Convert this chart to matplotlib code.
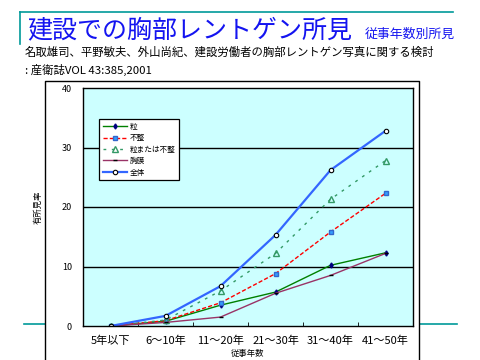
import matplotlib
matplotlib.use("Agg")
import matplotlib.pyplot as plt
from matplotlib.lines import Line2D

plt.rcParams['font.family'] = ['Noto Sans CJK JP', 'DejaVu Sans']

categories = ['5年以下', '6～10年', '11～20年', '21～30年', '31～40年', '41～50年']
tsubu = [0, 0.8, 3.5, 5.7, 10.2, 12.3]
fusei = [0, 0.9, 3.9, 8.8, 15.8, 22.3]
tsubu_or_fusei = [0, 1.0, 5.9, 12.2, 21.3, 27.8]
kyomaku = [0, 0.6, 1.5, 5.5, 8.5, 12.2]
zentai = [0, 1.7, 6.7, 15.3, 26.2, 32.8]
yticks = [0, 10, 20, 30, 40]

W, H = 480, 360
fig = plt.figure(figsize=(4.8, 3.6), dpi=100)
fig.patch.set_facecolor('white')

def fx(px): return px / W
def fy(py): return 1 - py / H

teal = '#009999'
# decorative slide lines
fig.add_artist(Line2D([fx(20), fx(453)], [fy(12), fy(12)], color=teal, lw=1.2))
fig.add_artist(Line2D([fx(20), fx(20)], [fy(12), fy(44)], color=teal, lw=1.2))
fig.add_artist(Line2D([fx(24), fx(45)], [fy(324), fy(324)], color=teal, lw=1.2))
fig.add_artist(Line2D([fx(420), fx(457)], [fy(324), fy(324)], color=teal, lw=1.2))

# chart frame
fig.add_artist(Line2D([fx(45), fx(45), fx(419), fx(419)], [fy(365), fy(81), fy(81), fy(365)],
                      color='black', lw=1.0))

# titles
fig.text(fx(27), fy(30), '建設での胸部レントゲン所見', fontsize=18, color='#1414F0', va='center', ha='left')
fig.text(fx(365), fy(34), '従事年数別所見', fontsize=9.3, color='#1414F0', va='center', ha='left')
fig.text(fx(25), fy(52), '名取雄司、平野敏夫、外山尚紀、建設労働者の胸部レントゲン写真に関する検討',
         fontsize=8.2, color='black', va='center', ha='left')
fig.text(fx(25), fy(70), ': 産衛誌VOL 43:385,2001', fontsize=8.2, color='black', va='center', ha='left')

ax = fig.add_axes([fx(83), fy(326), (413 - 83) / W, (326 - 88) / H])
ax.set_facecolor('#CCFFFF')
x = list(range(len(categories)))

ax.plot(x, tsubu, color='#008000', lw=1.0, marker='d', ms=2.6,
        mfc='#000080', mec='#000080', label='粒')
ax.plot(x, fusei, color='#FF0000', lw=1.0, ls=(0, (3, 1.5)), marker='s', ms=3.5,
        mfc='#33A0FF', mec='#3366CC', label='不整')
ax.plot(x, tsubu_or_fusei, color='#339966', lw=1.0, ls=(0, (2, 4)), marker='^', ms=4,
        mfc='none', mec='#339966', label='粒または不整')
ax.plot(x, kyomaku, color='#993366', lw=1.0, marker='_', ms=3, mec='black', label='胸膜')
ax.plot(x, zentai, color='#3366FF', lw=1.6, marker='o', ms=3.2,
        mfc='white', mec='black', mew=0.8, label='全体')

ax.set_xlim(-0.5, 5.5)
ax.set_ylim(0, 40)
ax.set_yticks(yticks)
ax.set_yticklabels([str(v) for v in yticks], fontsize=6.5)
for v in yticks[1:-1]:
    ax.axhline(v, color='black', lw=1.0, zorder=0.5)
ax.set_xticks(x)
ax.set_xticklabels(categories, fontsize=8)
ax.set_xticks([i + 0.5 for i in range(len(categories) - 1)], minor=True)
ax.tick_params(axis='x', which='major', length=0, pad=7)
ax.tick_params(axis='x', which='minor', length=3, direction='in')
ax.tick_params(axis='y', length=0, pad=8)
for s in ax.spines.values():
    s.set_linewidth(1.0)
    s.set_color('black')

ax.set_xlabel('従事年数', fontsize=6, labelpad=2)
ax.set_ylabel('有所見率', fontsize=6, labelpad=14)

leg = ax.legend(loc='upper left', bbox_to_anchor=((99 - 83) / 330, (326 - 119) / 238),
                fontsize=5.5, frameon=True, fancybox=False, edgecolor='black',
                framealpha=1, facecolor='white', handlelength=3.2, borderpad=0.5,
                labelspacing=0.45, handletextpad=0.3, borderaxespad=0)
leg.get_frame().set_linewidth(0.9)

fig.savefig('out.png', dpi=100)
